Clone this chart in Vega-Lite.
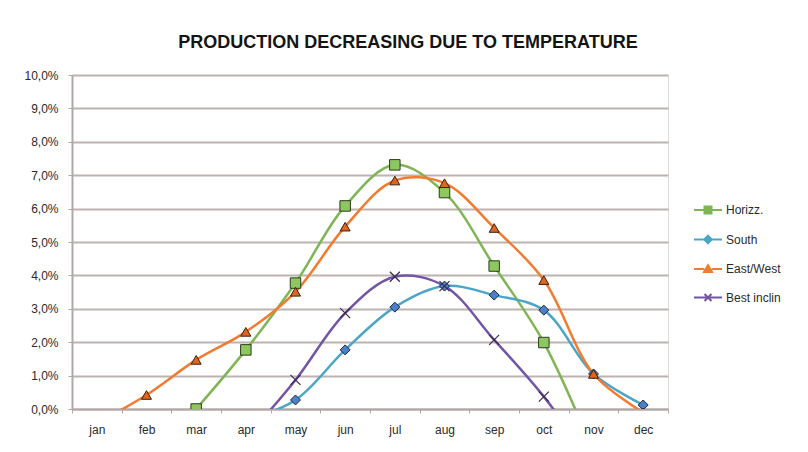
{
  "$schema": "https://vega.github.io/schema/vega-lite/v6.json",
  "width": 596,
  "height": 334,
  "autosize": {"type": "none"},
  "padding": {"left": 72, "top": 75, "right": 140, "bottom": 43},
  "background": "#ffffff",
  "title": {
    "text": "PRODUCTION DECREASING DUE TO TEMPERATURE",
    "font": "Liberation Sans",
    "fontSize": 18,
    "fontWeight": "bold",
    "color": "#141414",
    "anchor": "middle",
    "dx": 38,
    "offset": 17
  },
  "data": {
    "values": [
      {"month": "mar", "series": "Horizz.", "value": 0.0},
      {"month": "apr", "series": "Horizz.", "value": 0.0177},
      {"month": "may", "series": "Horizz.", "value": 0.0377},
      {"month": "jun", "series": "Horizz.", "value": 0.0608},
      {"month": "jul", "series": "Horizz.", "value": 0.0731},
      {"month": "aug", "series": "Horizz.", "value": 0.0648},
      {"month": "sep", "series": "Horizz.", "value": 0.0428},
      {"month": "oct", "series": "Horizz.", "value": 0.0199},
      {"month": "nov", "series": "Horizz.", "value": -0.013},
      {"month": "apr", "series": "South", "value": -0.0035},
      {"month": "may", "series": "South", "value": 0.0027},
      {"month": "jun", "series": "South", "value": 0.0177},
      {"month": "jul", "series": "South", "value": 0.0305},
      {"month": "aug", "series": "South", "value": 0.0368},
      {"month": "sep", "series": "South", "value": 0.0341},
      {"month": "oct", "series": "South", "value": 0.0296},
      {"month": "nov", "series": "South", "value": 0.0105},
      {"month": "dec", "series": "South", "value": 0.0012},
      {"month": "jan", "series": "East/West", "value": -0.0042},
      {"month": "feb", "series": "East/West", "value": 0.0042},
      {"month": "mar", "series": "East/West", "value": 0.0147},
      {"month": "apr", "series": "East/West", "value": 0.0231},
      {"month": "may", "series": "East/West", "value": 0.0351},
      {"month": "jun", "series": "East/West", "value": 0.0546},
      {"month": "jul", "series": "East/West", "value": 0.0684},
      {"month": "aug", "series": "East/West", "value": 0.0676},
      {"month": "sep", "series": "East/West", "value": 0.0542},
      {"month": "oct", "series": "East/West", "value": 0.0386},
      {"month": "nov", "series": "East/West", "value": 0.0105},
      {"month": "dec", "series": "East/West", "value": -0.001},
      {"month": "apr", "series": "Best inclin", "value": -0.0087},
      {"month": "may", "series": "Best inclin", "value": 0.0087},
      {"month": "jun", "series": "Best inclin", "value": 0.0287},
      {"month": "jul", "series": "Best inclin", "value": 0.0396},
      {"month": "aug", "series": "Best inclin", "value": 0.0368},
      {"month": "sep", "series": "Best inclin", "value": 0.0207},
      {"month": "oct", "series": "Best inclin", "value": 0.0037},
      {"month": "nov", "series": "Best inclin", "value": -0.017}
    ]
  },
  "encoding": {
    "x": {
      "field": "month",
      "type": "ordinal",
      "sort": ["jan", "feb", "mar", "apr", "may", "jun", "jul", "aug", "sep", "oct", "nov", "dec"],
      "bandPosition": 0.5,
      "scale": {"type": "band", "paddingInner": 0, "paddingOuter": 0,
        "domain": ["jan", "feb", "mar", "apr", "may", "jun", "jul", "aug", "sep", "oct", "nov", "dec"]},
      "axis": {
        "title": null,
        "labelAngle": 0,
        "tickBand": "extent",
        "tickSize": 4,
        "tickColor": "#b0a8a6",
        "domainColor": "#b0a8a6",
        "domainWidth": 2,
        "labelPadding": 11,
        "labelFont": "Liberation Sans",
        "labelFontSize": 12,
        "labelColor": "#2a2a2a",
        "grid": false
      }
    },
    "y": {
      "field": "value",
      "type": "quantitative",
      "scale": {"domain": [0, 0.1], "nice": false, "zero": false},
      "axis": {
        "title": null,
        "values": [0, 0.01, 0.02, 0.03, 0.04, 0.05, 0.06, 0.07, 0.08, 0.09, 0.1],
        "labelExpr": "replace(format(datum.value, '.1%'), '.', ',')",
        "tickSize": 4,
        "tickColor": "#b0a8a6",
        "domainColor": "#b0a8a6",
        "domainWidth": 2,
        "gridColor": "#bdb3b0",
        "gridWidth": 2,
        "labelPadding": 10,
        "labelFont": "Liberation Sans",
        "labelFontSize": 12,
        "labelColor": "#2a2a2a"
      }
    }
  },
  "layer": [
    {
      "mark": {"type": "line", "interpolate": "catmull-rom", "strokeWidth": 2.5, "clip": true},
      "encoding": {
        "color": {
          "field": "series",
          "type": "nominal",
          "scale": {
            "domain": ["Horizz.", "South", "East/West", "Best inclin"],
            "range": ["#80b555", "#4aa5c9", "#f37b30", "#7355a6"]
          },
          "legend": {
            "orient": "none",
            "legendX": 630,
            "legendY": 129,
            "title": null,
            "labelFont": "Liberation Sans",
            "labelFontSize": 12,
            "labelColor": "#2a2a2a",
            "rowPadding": 13.5,
            "symbolSize": 100,
            "symbolStrokeWidth": 2,
            "labelOffset": 12
          }
        }
      }
    },
    {
      "transform": [{"filter": "datum.value > 1"}],
      "mark": {"type": "point", "filled": true, "size": 100, "strokeWidth": 2, "opacity": 1},
      "encoding": {
        "color": {"field": "series", "type": "nominal"},
        "stroke": {
          "field": "series",
          "type": "nominal",
          "scale": {
            "domain": ["Horizz.", "South", "East/West", "Best inclin"],
            "range": ["#80b555", "#4aa5c9", "#f37b30", "#7355a6"]
          }
        },
        "shape": {
          "field": "series",
          "type": "nominal",
          "scale": {
            "domain": ["Horizz.", "South", "East/West", "Best inclin"],
            "range": [
              "M-2.8,0H-0.7M0.7,0H2.8M-0.7,-0.7H0.7V0.7H-0.7Z",
              "M-2.8,0H-0.75M0.75,0H2.8M0,-0.75L0.75,0L0,0.75L-0.75,0Z",
              "M-2.8,0H-0.75M0.75,0H2.8M0,-0.75L0.8,0.6H-0.8Z",
              "M-2.8,0H2.8M-0.7,-0.7L0.7,0.7M-0.7,0.7L0.7,-0.7"
            ]
          }
        }
      }
    },
    {
      "transform": [{"filter": {"field": "series", "equal": "Horizz."}}],
      "mark": {"type": "point", "shape": "square", "filled": true, "fill": "#8cc760", "stroke": "#2e3a1e", "strokeWidth": 1, "size": 110, "opacity": 1, "clip": true}
    },
    {
      "transform": [{"filter": {"field": "series", "equal": "South"}}],
      "mark": {"type": "point", "shape": "diamond", "filled": true, "fill": "#4c7fc6", "stroke": "#1e2a40", "strokeWidth": 1, "size": 100, "opacity": 1, "clip": true}
    },
    {
      "transform": [{"filter": {"field": "series", "equal": "East/West"}}],
      "mark": {"type": "point", "shape": "triangle-up", "filled": true, "fill": "#e0661e", "stroke": "#3a2010", "strokeWidth": 1, "size": 100, "opacity": 1, "clip": true}
    },
    {
      "transform": [{"filter": {"field": "series", "equal": "Best inclin"}}],
      "mark": {"type": "point", "shape": "M-1,-1L1,1M-1,1L1,-1", "filled": false, "stroke": "#3a2a50", "strokeWidth": 1.2, "size": 100, "opacity": 1, "clip": true}
    }
  ]
}
